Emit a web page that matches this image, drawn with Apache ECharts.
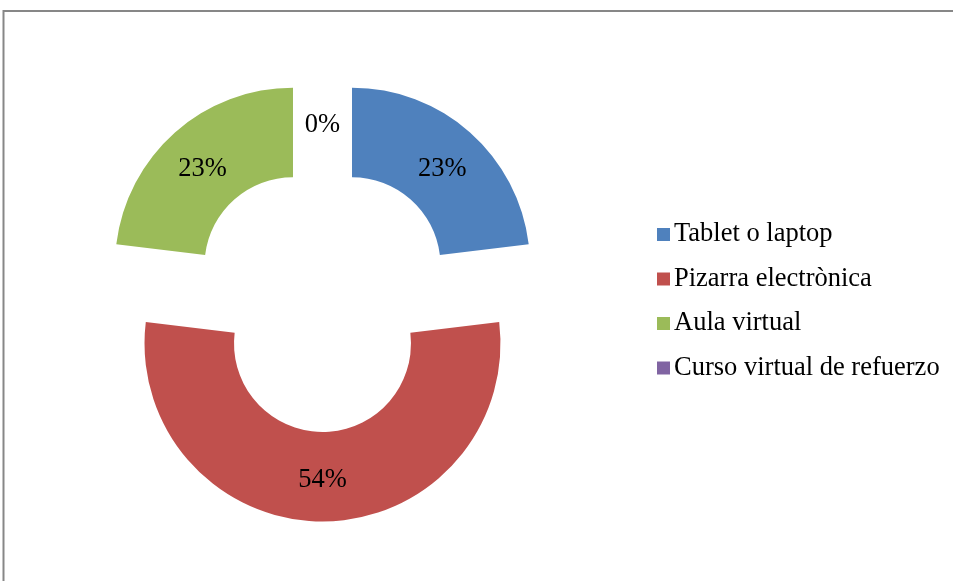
<!DOCTYPE html>
<html>
<head>
<meta charset="utf-8">
<script src="https://cdn.jsdelivr.net/npm/echarts@6/dist/echarts.min.js"></script>
<style>
    html, body { margin: 0; padding: 0; background: #fff; }
    #chart { width: 953px; height: 581px; }
</style>
</head>
<body>
<div id="chart"></div>
<script>
// categorias y valores (conteos; los porcentajes los calcula el pie)
var categorias = ['Tablet o laptop', 'Pizarra electrònica', 'Aula virtual', 'Curso virtual de refuerzo'];
var valores = [3, 7, 3, 0];
var colores = ['#4F81BD', '#C0504D', '#9BBB59', '#8064A2'];
// estilo rich por porcion (para bajar un poco las etiquetas de arriba)
var estilos = ['arriba', 'normal', 'arriba', 'cero'];

var myChart = echarts.init(document.getElementById('chart'));

var datos = [];
for (var i = 0; i < categorias.length; i++) {
    datos.push({
        name: categorias[i],
        value: valores[i],
        selected: true,
        itemStyle: {color: colores[i]}
    });
}

var fuente = {fontFamily: 'Liberation Serif', fontSize: 26.5, color: '#000'};

var option = {
    animation: false,
    graphic: [
        {
            // marco gris del grafico
            type: 'rect',
            shape: {x: 3.5, y: 11, width: 1000, height: 700},
            style: {fill: 'none', stroke: '#878787', lineWidth: 2},
            silent: true
        }
    ],
    legend: {
        orient: 'vertical',
        left: 652,
        top: 216,
        icon: 'rect',
        itemWidth: 13,
        itemHeight: 13,
        itemGap: 17.5,
        textStyle: {fontFamily: 'Liberation Serif', fontSize: 26.5, color: '#000', padding: [0, 0, 0, -1]},
        data: categorias
    },
    series: [
        {
            type: 'pie',
            center: [322.5, 299],
            radius: [88.5, 178],
            startAngle: 90,
            selectedMode: 'multiple',
            selectedOffset: 44.5,
            avoidLabelOverlap: false,
            label: {
                position: 'inside',
                formatter: function (p) {
                    return '{' + estilos[p.dataIndex] + '|' + Math.round(p.percent) + '%}';
                },
                fontFamily: 'Liberation Serif',
                fontSize: 26.5,
                color: '#000',
                rich: {
                    normal: Object.assign({}, fuente),
                    arriba: Object.assign({padding: [10, 0, 0, 0]}, fuente),
                    cero: Object.assign({padding: [14, 0, 0, 0]}, fuente)
                }
            },
            labelLine: {show: false},
            emphasis: {disabled: true},
            data: datos
        }
    ]
};

myChart.setOption(option);
</script>
</body>
</html>
